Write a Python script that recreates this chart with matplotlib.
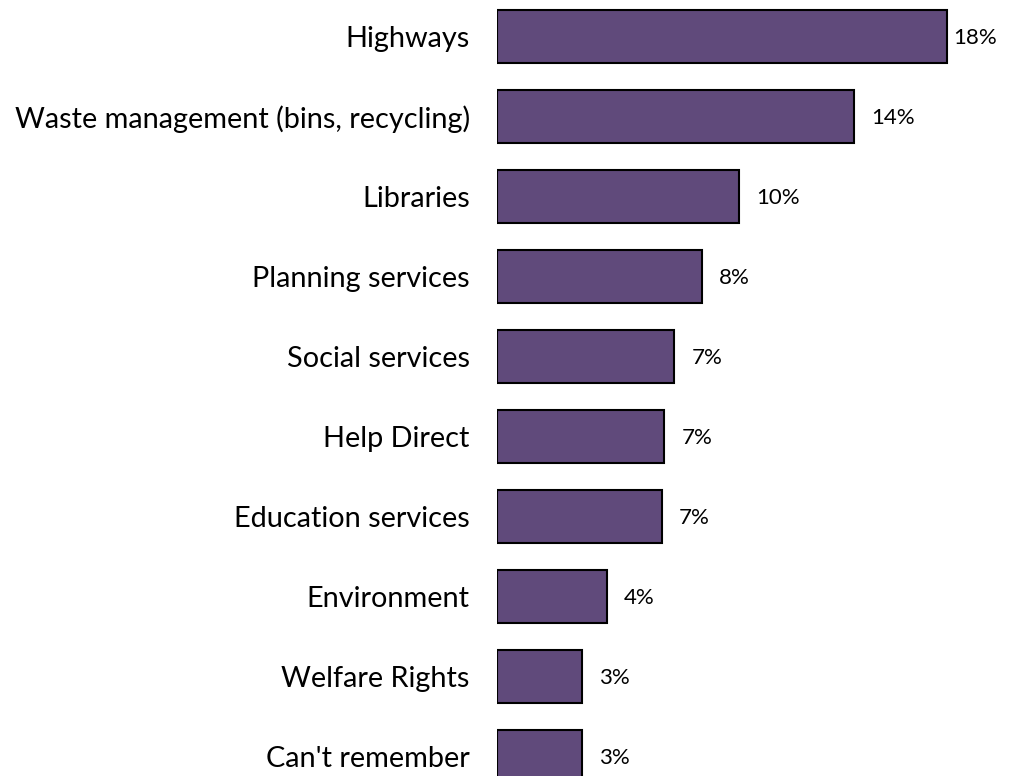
import matplotlib
matplotlib.use("Agg")
import matplotlib.pyplot as plt
import numpy as np

# services contacted, share of respondents (%)
services = ["Highways", "Waste management (bins, recycling)", "Libraries",
            "Planning services", "Social services", "Help Direct",
            "Education services", "Environment", "Welfare Rights",
            "Can't remember"]
shares = [18.0, 14.3, 9.7, 8.2, 7.1, 6.7, 6.6, 4.4, 3.4, 3.4]

bar_color = "#604A7B"
plt.rcParams['font.family'] = ['Lato', 'DejaVu Sans']

fig = plt.figure(figsize=(10.12, 7.76), dpi=100)
ax = fig.add_axes([0.491, 0.0, 0.494, 1.0])

y = np.arange(len(services))
ax.barh(y, shares, height=0.66, color=bar_color, edgecolor="black",
        linewidth=1.5)

ax.set_xlim(0, 20)
ax.set_ylim(9.24, -0.456)

ax.set_yticks(y)
ax.set_yticklabels(services, fontsize=20.8)
ax.tick_params(axis="y", length=0, pad=19.5)
ax.set_xticks([])
for s in ax.spines.values():
    s.set_visible(False)

# value labels sit just right of each bar, pulled in for the longest one
for yi, v in zip(y, shares):
    xpos = min(v + 0.69, 18.25)
    ax.text(xpos, yi + 0.02, f"{v:.0f}%", va="center", ha="left", fontsize=16)

fig.savefig("out.png", dpi=100)
